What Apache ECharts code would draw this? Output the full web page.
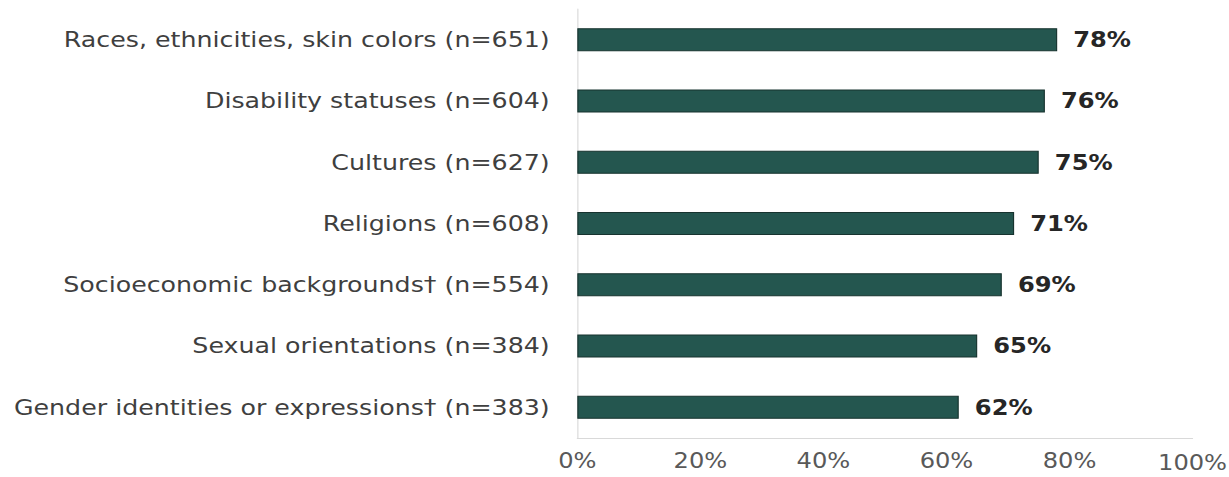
<!DOCTYPE html>
<html>
<head>
<meta charset="utf-8">
<script src="https://cdn.jsdelivr.net/npm/echarts@6/dist/echarts.min.js"></script>
<style>
html,body{margin:0;padding:0;background:#fff;overflow:hidden;}
#wrap{width:1229px;height:477px;overflow:hidden;}
#chart{width:1069px;height:477px;transform:scaleX(1.15);transform-origin:0 0;}
</style>
</head>
<body>
<div id="wrap"><div id="chart"></div></div>
<script>
const categories = [
  'Races, ethnicities, skin colors (n=651)',
  'Disability statuses (n=604)',
  'Cultures (n=627)',
  'Religions (n=608)',
  'Socioeconomic backgrounds\u2020 (n=554)',
  'Sexual orientations (n=384)',
  'Gender identities or expressions\u2020 (n=383)'
];
const values = [78, 76, 75, 71, 69, 65, 62];
const tickValues = [0, 20, 40, 60, 80, 100];

const chart = echarts.init(document.getElementById('chart'), null, { renderer: 'svg' });
chart.setOption({
  animation: false,
  grid: { left: 502, right: 32, top: 9, bottom: 39, containLabel: false, outerBoundsMode: 'none' },
  xAxis: {
    type: 'value', min: 0, max: 100, interval: 20,
    axisLine: { show: true, lineStyle: { color: '#d9d9d9', width: 1 } },
    axisTick: { show: false },
    splitLine: { show: false },
    axisLabel: {
      margin: 12,
      fontFamily: 'DejaVu Sans', fontSize: 21, color: '#595959',
      formatter: function (v) { return tickValues.indexOf(v) === 5 ? '{b|' + v + '%}' : v + '%'; },
      rich: { b: { fontFamily: 'DejaVu Sans', fontSize: 21, lineHeight: 21, color: '#595959', padding: [5, 0, 0, 0] } }
    }
  },
  yAxis: {
    type: 'category', data: categories, inverse: true,
    axisLine: { show: true, lineStyle: { color: '#d9d9d9', width: 1 } },
    axisTick: { show: false },
    axisLabel: { margin: 24, fontFamily: 'DejaVu Sans', fontSize: 22, color: '#3f3f3f' }
  },
  series: [{
    type: 'bar', data: values, barWidth: 23,
    itemStyle: { color: '#24564f', borderColor: '#17332f', borderWidth: 1 },
    label: {
      show: true, position: 'right', distance: 14,
      formatter: '{c}%', fontFamily: 'DejaVu Sans', fontWeight: 'bold', fontSize: 21, color: '#262626'
    }
  }]
});
</script>
</body>
</html>
